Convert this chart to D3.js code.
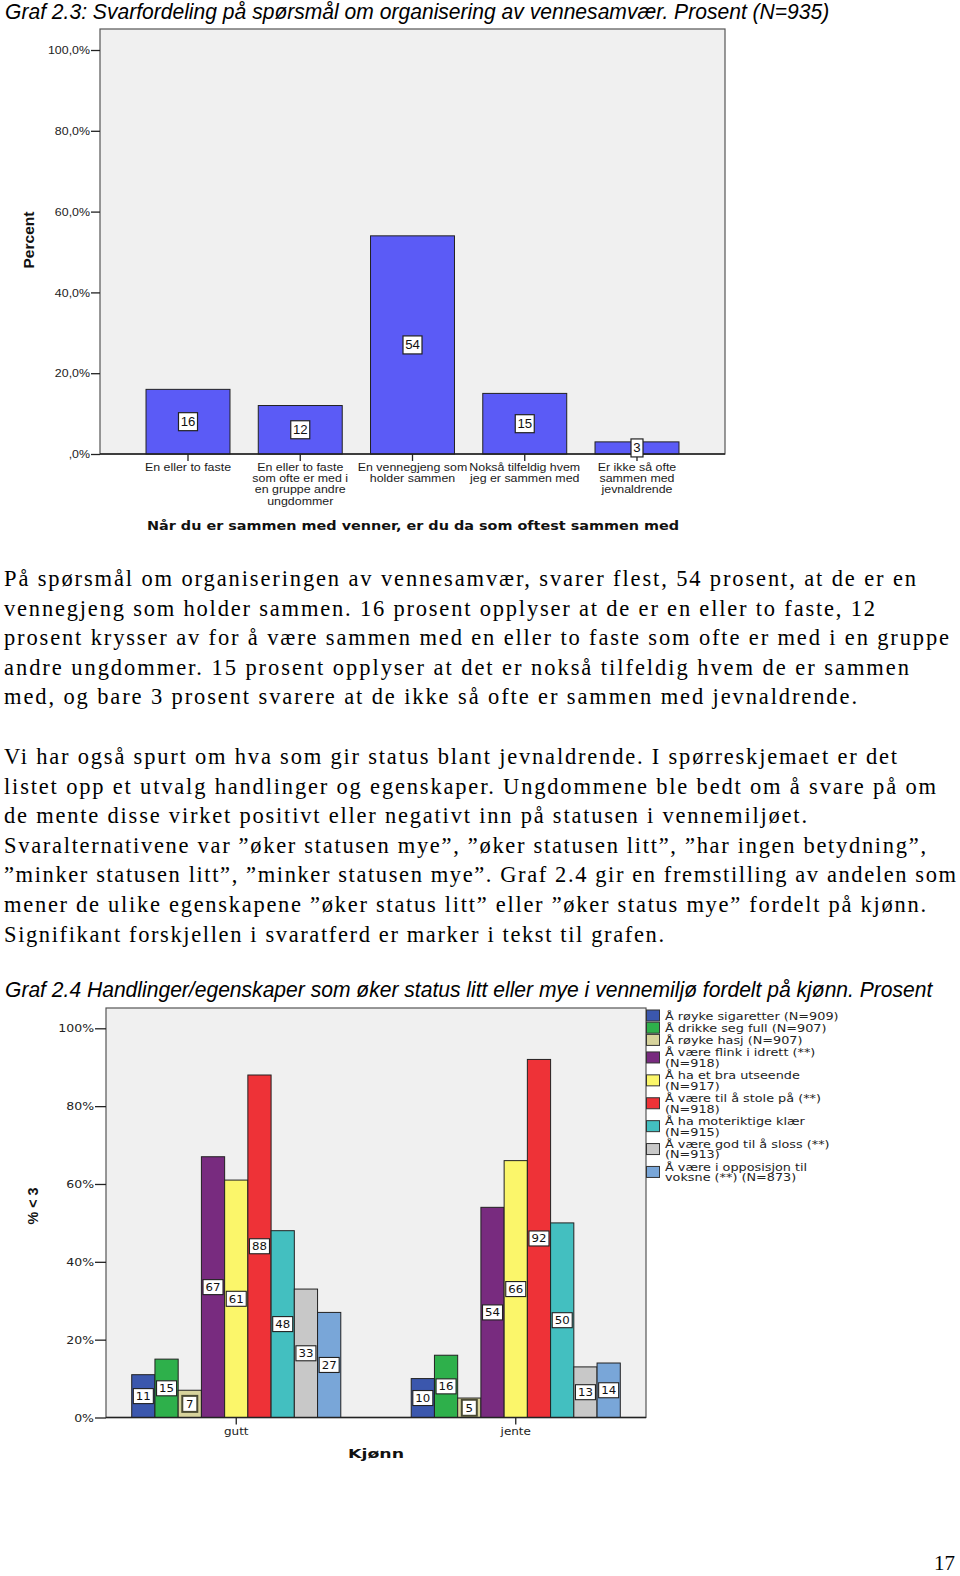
<!DOCTYPE html>
<html><head><meta charset="utf-8">
<script src="https://cdn.jsdelivr.net/npm/d3@7"></script>
<style>
html,body{margin:0;padding:0;background:#fff;}
svg{display:block;}
</style></head><body>
<svg id="page" width="960" height="1576"></svg>
<script>
// ---------------- DATA ----------------
const title1 = "Graf 2.3: Svarfordeling på spørsmål om organisering av vennesamvær. Prosent (N=935)";
const chart1Categories = [
  ["En eller to faste"],
  ["En eller to faste", "som ofte er med i", "en gruppe andre", "ungdommer"],
  ["En vennegjeng som", "holder sammen"],
  ["Nokså tilfeldig hvem", "jeg er sammen med"],
  ["Er ikke så ofte", "sammen med", "jevnaldrende"]
];
const chart1Values = [16, 12, 54, 15, 3];
const chart1YTicks = [0, 20, 40, 60, 80, 100];
const chart1YTickLabels = [",0%", "20,0%", "40,0%", "60,0%", "80,0%", "100,0%"];
const chart1YTitle = "Percent";
const chart1XTitle = "Når du er sammen med venner, er du da som oftest sammen med";

const paragraph1 = [
  "På spørsmål om organiseringen av vennesamvær, svarer flest, 54 prosent, at de er en",
  "vennegjeng som holder sammen. 16 prosent opplyser at de er en eller to faste, 12",
  "prosent krysser av for å være sammen med en eller to faste som ofte er med i en gruppe",
  "andre ungdommer. 15 prosent opplyser at det er nokså tilfeldig hvem de er sammen",
  "med, og bare 3 prosent svarere at de ikke så ofte er sammen med jevnaldrende."
];
const paragraph2 = [
  "Vi har også spurt om hva som gir status blant jevnaldrende. I spørreskjemaet er det",
  "listet opp et utvalg handlinger og egenskaper. Ungdommene ble bedt om å svare på om",
  "de mente disse virket positivt eller negativt inn på statusen i vennemiljøet.",
  "Svaralternativene var ”øker statusen mye”, ”øker statusen litt”, ”har ingen betydning”,",
  "”minker statusen litt”, ”minker statusen mye”. Graf 2.4 gir en fremstilling av andelen som",
  "mener de ulike egenskapene ”øker status litt” eller ”øker status mye” fordelt på kjønn.",
  "Signifikant forskjellen i svaratferd er marker i tekst til grafen."
];

const title2 = "Graf 2.4 Handlinger/egenskaper som øker status litt eller mye i vennemiljø fordelt på kjønn. Prosent";
const chart2Groups = ["gutt", "jente"];
const chart2Series = [
  ["Å røyke sigaretter (N=909)"],
  ["Å drikke seg full (N=907)"],
  ["Å røyke hasj (N=907)"],
  ["Å være flink i idrett (**)", "(N=918)"],
  ["Å ha et bra utseende", "(N=917)"],
  ["Å være til å stole på (**)", "(N=918)"],
  ["Å ha moteriktige klær", "(N=915)"],
  ["Å være god til å sloss (**)", "(N=913)"],
  ["Å være i opposisjon til", "voksne (**) (N=873)"]
];
const chart2Gutt  = [11, 15, 7, 67, 61, 88, 48, 33, 27];
const chart2Jente = [10, 16, 5, 54, 66, 92, 50, 13, 14];
const chart2YTicks = [0, 20, 40, 60, 80, 100];
const chart2YTickLabels = ["0%", "20%", "40%", "60%", "80%", "100%"];
const chart2YTitle = "% < 3";
const chart2XTitle = "Kjønn";
const pageNumber = "17";

// ---------------- STYLE / LAYOUT ----------------
const chart2Palette = ["#3b57ad", "#2eb04b", "#d7d39c", "#782b7f", "#fbf66a", "#ee3237", "#43bfc0", "#c8c8c8", "#79a6d8"];
const chart1BarColor = "#5b5bf6";
const para1Ends = [916, 875, 949, 909, 857];
const para2Ends = [897, 936, 807, 926, 956, 926, 664];

const svg = d3.select("#page");
const SANS = "'Liberation Sans', Arial, sans-serif";
const NARROW = "'Liberation Sans Narrow', 'Liberation Sans', Arial, sans-serif";
const WIDE = "'DejaVu Sans', Verdana, sans-serif";
const SERIF = "'Liberation Serif', 'Times New Roman', serif";

function stretch(sel, k) {
  sel.each(function () {
    const w = this.getComputedTextLength();
    d3.select(this).attr("textLength", w * k).attr("lengthAdjust", "spacingAndGlyphs");
  });
}
// horizontally scale a title so it spans exactly `width` px starting at x
function fitTitle(text, x, y, width) {
  const g = svg.append("g");
  const t = g.append("text").attr("x", 0).attr("y", 0)
    .attr("font-family", NARROW).attr("font-style", "italic").attr("font-size", 22).attr("fill", "#000").text(text);
  const w = t.node().getComputedTextLength();
  g.attr("transform", `translate(${x},${y}) scale(${width / w},1)`);
}

fitTitle(title1, 5, 19, 825);

// ---------- Chart 1 ----------
const c1 = { left: 100, right: 725, top: 29, bottom: 454 };
const x1 = d3.scaleBand().domain(d3.range(chart1Values.length))
  .range([c1.left, c1.right]).paddingInner(0.252).paddingOuter(0.41);
const y1 = d3.scaleLinear().domain([0, 100]).range([454, 50]);

const g1 = svg.append("g");
g1.append("rect").attr("x", c1.left).attr("y", c1.top)
  .attr("width", c1.right - c1.left).attr("height", c1.bottom - c1.top)
  .attr("fill", "#f0f0f0").attr("stroke", "#555").attr("stroke-width", 1.2);

g1.selectAll("rect.bar").data(chart1Values).join("rect").attr("class", "bar")
  .attr("x", (d, i) => x1(i)).attr("width", x1.bandwidth())
  .attr("y", d => y1(d)).attr("height", d => y1(0) - y1(d))
  .attr("fill", chart1BarColor).attr("stroke", "#222").attr("stroke-width", 1);

const ay1 = g1.append("g").attr("transform", `translate(${c1.left},0)`)
  .call(d3.axisLeft(y1).tickValues(chart1YTicks).tickFormat((d, i) => chart1YTickLabels[i]).tickSize(9).tickPadding(1));
ay1.select(".domain").remove();
ay1.selectAll("line").attr("stroke", "#222").attr("stroke-width", 1.3);
ay1.selectAll("text").attr("font-family", SANS).attr("font-size", 10.5).attr("fill", "#222").attr("dy", "0.35em");
stretch(ay1.selectAll("text"), 1.18);

const ax1 = g1.append("g").attr("transform", `translate(0,${c1.bottom})`)
  .call(d3.axisBottom(x1).tickFormat("").tickSize(7));
ax1.select(".domain").attr("d", `M${c1.left},0H${c1.right}`).attr("stroke", "#222").attr("stroke-width", 1.3);
ax1.selectAll("line").attr("stroke", "#222").attr("stroke-width", 1.3);

chart1Categories.forEach((lines, i) => {
  lines.forEach((ln, j) => {
    const t = g1.append("text").attr("x", x1(i) + x1.bandwidth() / 2).attr("y", 471 + j * 11.2)
      .attr("text-anchor", "middle").attr("font-family", SANS).attr("font-size", 10.5).attr("fill", "#1a1a1a").text(ln);
    stretch(t, 1.18);
  });
});

chart1Values.forEach((v, i) => {
  const cx = x1(i) + x1.bandwidth() / 2;
  const cy = (y1(v) + y1(0)) / 2;
  const s = String(v);
  const w = s.length > 1 ? 19 : 12;
  const h = 18;
  g1.append("rect").attr("x", cx - w / 2).attr("y", cy - h / 2).attr("width", w).attr("height", h)
    .attr("fill", "#fff").attr("stroke", "#222").attr("stroke-width", 1.2);
  const t = g1.append("text").attr("x", cx).attr("y", cy + 4.3).attr("text-anchor", "middle")
    .attr("font-family", SANS).attr("font-size", 12).attr("fill", "#111").text(s);
  stretch(t, 1.1);
});

g1.append("text").attr("transform", "translate(34,240) rotate(-90)").attr("text-anchor", "middle")
  .attr("font-family", SANS).attr("font-weight", "bold").attr("font-size", 14).attr("fill", "#111")
  .attr("textLength", 57).attr("lengthAdjust", "spacingAndGlyphs").text(chart1YTitle);
g1.append("text").attr("x", 413).attr("y", 530).attr("text-anchor", "middle")
  .attr("font-family", WIDE).attr("font-weight", "bold").attr("font-size", 13).attr("fill", "#111")
  .attr("textLength", 532).attr("lengthAdjust", "spacingAndGlyphs").text(chart1XTitle);

// ---------- Body text ----------
paragraph1.forEach((ln, i) => {
  svg.append("text").attr("x", 4).attr("y", 586 + i * 29.6)
    .attr("font-family", SERIF).attr("font-size", 22.5).attr("fill", "#000")
    .attr("textLength", para1Ends[i] - 4).attr("lengthAdjust", "spacing").text(ln);
});
paragraph2.forEach((ln, i) => {
  svg.append("text").attr("x", 4).attr("y", 764 + i * 29.6)
    .attr("font-family", SERIF).attr("font-size", 22.5).attr("fill", "#000")
    .attr("textLength", para2Ends[i] - 4).attr("lengthAdjust", "spacing").text(ln);
});

fitTitle(title2, 5, 997, 928);

// ---------- Chart 2 ----------
const c2 = { left: 106, right: 646, top: 1008, bottom: 1417.5 };
const x2 = d3.scaleBand().domain(chart2Groups).range([c2.left, c2.right]).paddingInner(0.252).paddingOuter(0.092);
const xs2 = d3.scaleBand().domain(d3.range(chart2Series.length)).range([0, x2.bandwidth()]).padding(0);
const y2 = d3.scaleLinear().domain([0, 100]).range([c2.bottom, 1028.3]);
const color2 = d3.scaleOrdinal().domain(d3.range(chart2Series.length)).range(chart2Palette);

const g2 = svg.append("g");
g2.append("rect").attr("x", c2.left).attr("y", c2.top)
  .attr("width", c2.right - c2.left).attr("height", c2.bottom - c2.top)
  .attr("fill", "#f0f0f0").attr("stroke", "#555").attr("stroke-width", 1.2);

const groupData = [chart2Gutt, chart2Jente];
const flat = [];
groupData.forEach((vals, gi) => vals.forEach((v, si) => flat.push({ g: chart2Groups[gi], s: si, v })));

g2.selectAll("rect.bar").data(flat).join("rect").attr("class", "bar")
  .attr("x", d => x2(d.g) + xs2(d.s)).attr("width", xs2.bandwidth())
  .attr("y", d => y2(d.v)).attr("height", d => y2(0) - y2(d.v))
  .attr("fill", d => color2(d.s)).attr("stroke", "#222").attr("stroke-width", 1);

const ay2 = g2.append("g").attr("transform", `translate(${c2.left},0)`)
  .call(d3.axisLeft(y2).tickValues(chart2YTicks).tickFormat((d, i) => chart2YTickLabels[i]).tickSize(11).tickPadding(1));
ay2.select(".domain").remove();
ay2.selectAll("line").attr("stroke", "#222").attr("stroke-width", 1.3);
ay2.selectAll("text").attr("font-family", WIDE).attr("font-size", 10).attr("fill", "#222").attr("dy", "0.35em");
stretch(ay2.selectAll("text"), 1.25);

const ax2 = g2.append("g").attr("transform", `translate(0,${c2.bottom})`)
  .call(d3.axisBottom(x2).tickSize(7).tickPadding(3));
ax2.select(".domain").attr("d", `M${c2.left},0H${c2.right}`).attr("stroke", "#222").attr("stroke-width", 1.3);
ax2.selectAll("line").attr("stroke", "#222").attr("stroke-width", 1.3);
ax2.selectAll("text").attr("font-family", WIDE).attr("font-size", 10).attr("fill", "#222");
stretch(ax2.selectAll("text"), 1.2);

flat.forEach(d => {
  const cx = x2(d.g) + xs2(d.s) + xs2.bandwidth() / 2;
  const cy = (y2(d.v) + y2(0)) / 2;
  const s = String(d.v);
  const one = s.length === 1;
  const w = one ? 15 : 20, h = one ? 16 : 15;
  g2.append("rect").attr("x", cx - w / 2).attr("y", cy - h / 2).attr("width", w).attr("height", h)
    .attr("fill", "#fff").attr("stroke", one ? "#4a4a34" : "#222").attr("stroke-width", one ? 2 : 1.1);
  const t = g2.append("text").attr("x", cx).attr("y", cy + 4).attr("text-anchor", "middle")
    .attr("font-family", WIDE).attr("font-size", 10.5).attr("fill", "#111").text(s);
  stretch(t, 1.12);
});

g2.append("text").attr("transform", "translate(38,1206) rotate(-90)").attr("text-anchor", "middle")
  .attr("font-family", SANS).attr("font-weight", "bold").attr("font-size", 15.5).attr("fill", "#111")
  .attr("textLength", 37).attr("lengthAdjust", "spacingAndGlyphs").text(chart2YTitle);
g2.append("text").attr("x", 376).attr("y", 1458).attr("text-anchor", "middle")
  .attr("font-family", WIDE).attr("font-weight", "bold").attr("font-size", 13).attr("fill", "#111")
  .attr("textLength", 56).attr("lengthAdjust", "spacingAndGlyphs").text(chart2XTitle);

// legend
const lineH = 10.7, gap = 1.5;
let ly = 1019.5;
const lg = svg.append("g");
chart2Series.forEach((lines, i) => {
  const center = ly - 4 + (lines.length - 1) * lineH / 2;
  lg.append("rect").attr("x", 646.5).attr("y", center - 5.5).attr("width", 13).attr("height", 11)
    .attr("fill", color2(i)).attr("stroke", "#333").attr("stroke-width", 1);
  lines.forEach((ln, j) => {
    const t = lg.append("text").attr("x", 665).attr("y", ly + j * lineH)
      .attr("font-family", WIDE).attr("font-size", 10.5).attr("fill", "#222").text(ln);
    stretch(t, 1.22);
  });
  ly += lines.length * lineH + gap;
});

// page number
svg.append("text").attr("x", 955).attr("y", 1570).attr("text-anchor", "end")
  .attr("font-family", SERIF).attr("font-size", 21).attr("fill", "#000").text(pageNumber);
</script>
</body></html>
